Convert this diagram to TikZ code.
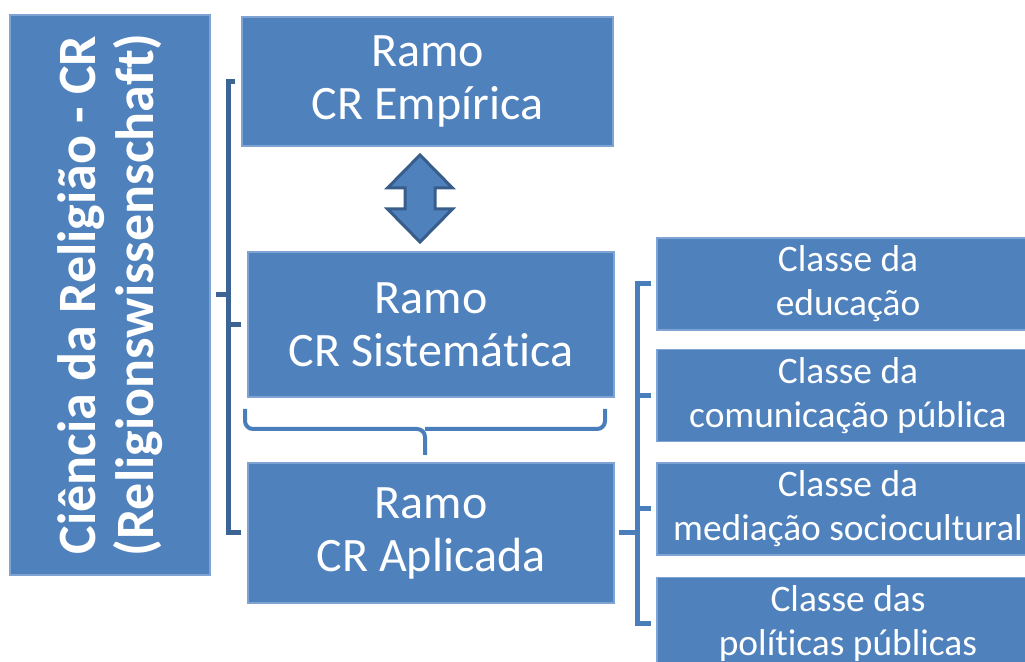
\documentclass[tikz,border=0pt]{standalone}
\usepackage{fontspec}
\setmainfont{Carlito}[Ligatures={NoCommon,NoContextual}]
\definecolor{boxblue}{HTML}{4F81BD}
\definecolor{boxedge}{HTML}{7FA3D3}
\definecolor{darkline}{HTML}{3C6594}
\definecolor{lightline}{HTML}{4A7EBB}
\definecolor{arrowedge}{HTML}{385D8A}
\begin{document}
\begin{tikzpicture}[
    x=0.5pt, y=-0.5pt,
    block/.style={
      rectangle,
      fill=boxblue,
      draw=boxedge,
      line width=0.6pt,
      text=white,
      align=center,
      inner sep=0pt
    },
    ramo/.style={
      block,
      font=\fontsize{24}{26.5}\selectfont,
      minimum width=183pt,
      minimum height=72pt
    },
    classe/.style={
      block,
      font=\fontsize{18.7}{22}\selectfont,
      minimum width=191pt,
      minimum height=46pt
    },
    link/.style={draw=lightline, line width=2.5pt},
    trunk/.style={draw=darkline, line width=2.5pt},
]

\clip (0,0) rectangle (1025,662);

\node[block, rotate=90, minimum width=280pt, minimum height=100pt, font=\fontsize{27}{29}\selectfont\bfseries] (CR) at (110,295) {Ciência da Religião - CR\\(Religionswissenschaft)};

\node[ramo, minimum width=185.5pt, minimum height=64.5pt] (EMP) at (427.5,81.5) {Ramo\\CR Empírica};
\node[ramo, minimum height=72.5pt] (SIS) at (431,324.5) {Ramo\\CR Sistemática};
\node[ramo, minimum height=70pt] (APL) at (431,533) {Ramo\\CR Aplicada};

\node[classe] (EDU) at (848,284) {Classe da\\educação};
\node[classe] (COM) at (848,395.5) {Classe da\\comunicação pública};
\node[classe] (MED) at (848,509) {Classe da\\mediação sociocultural};
\node[classe] (POL) at (848,623.5) {Classe das\\políticas públicas};

% double arrow between the first two branches
\coordinate (ARR) at (420,198.5);
\draw[fill=boxblue, draw=arrowedge, line width=1.5pt, shift={(ARR)}]
  (0,-43.5) -- (32.5,-10.5) -- (15,-10.5) -- (15,10.5) -- (32.5,10.5) -- (0,43.5)
  -- (-32.5,10.5) -- (-15,10.5) -- (-15,-10.5) -- (-32.5,-10.5) -- cycle;

% brace under CR Sistematica
\draw[link, line width=2pt, rounded corners=4pt] (245,409) |- (425,429) -- (425,455);
\draw[link, line width=2pt, rounded corners=4pt] (605,409) |- (425,429);

% left bracket
\draw[trunk] ([xshift=2.5pt]CR.south) -- ++(13,0) coordinate (LJ);
\draw[trunk] ([xshift=-3pt]EMP.west) -| (LJ) |- ([xshift=-3pt]APL.west);
\draw[trunk] (LJ |- SIS.west) -- ([xshift=-3pt]SIS.west);

% right bracket
\draw[link] ([xshift=2pt]APL.east) -- ++(19,0) coordinate (RJ);
\draw[link] ([xshift=-2.5pt]EDU.west) -| (RJ) |- ([xshift=-2.5pt]POL.west);
\foreach \cls in {COM,MED}
  \draw[link] (RJ |- \cls.west) -- ([xshift=-2.5pt]\cls.west);

\end{tikzpicture}
\end{document}
